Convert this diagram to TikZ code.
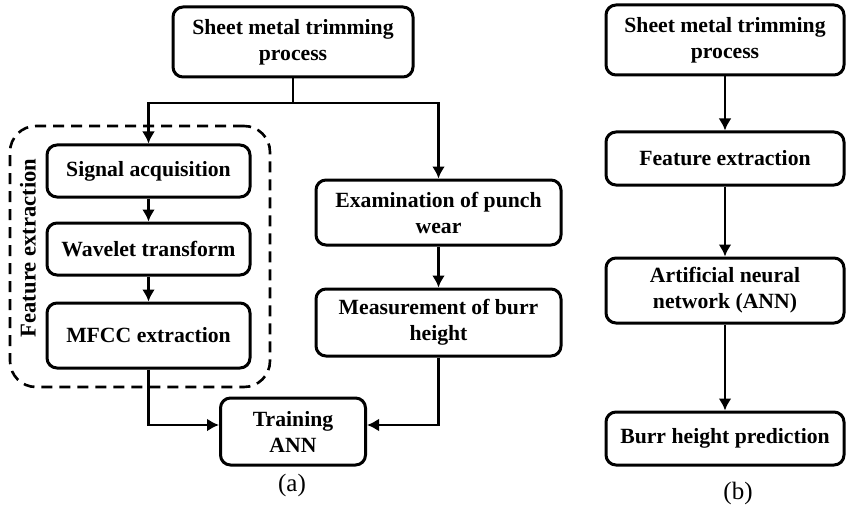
\documentclass[tikz,border=0pt]{standalone}
\usepackage{fontspec}
\setmainfont{Liberation Serif}
\usetikzlibrary{arrows.meta,positioning}
\tikzset{>={Latex[length=6pt,width=6.5pt]}}
\tikzset{procbox/.style={draw, rounded corners=5pt, line width=1.5pt, align=center, inner sep=0pt, font=\fontsize{10.85}{13}\selectfont\bfseries}}

\begin{document}
\begin{tikzpicture}[x=0.5pt, y=-0.5pt, line width=1.3pt]
      \useasboundingbox (0,0) rectangle (846,508);
      % (a) training
      \node[procbox, minimum width=120pt, minimum height=35pt] (st) at (293,42) {Sheet metal trimming\\process};
      \node[procbox, minimum width=101.5pt, minimum height=26pt] (sig) at (148.5,171) {Signal acquisition};
      \node[procbox, below of=sig, node distance=39pt, minimum width=101.5pt, minimum height=26pt] (wav) {Wavelet transform};
      \node[procbox, below of=wav, node distance=43.25pt, minimum width=101.5pt, minimum height=32.5pt] (mfcc) {MFCC extraction};
      \node[procbox, minimum width=122.5pt, minimum height=32.5pt] (exam) at (438.5,212.5) {Examination of punch\\wear};
      \node[procbox, below of=exam, node distance=55pt, minimum width=122.5pt, minimum height=33.5pt] (meas) {Measurement of burr\\height};
      \node[procbox, below of=st, node distance=194.75pt, minimum width=72.5pt, minimum height=33.5pt] (train) {Training\\ANN};
      \node[draw, dashed, dash pattern=on 5.5pt off 3.5pt, rounded corners=13pt, minimum width=130pt, minimum height=130.5pt] (fegroup) at (140,256.5) {};
      \node[rotate=90, font=\fontsize{11.3}{13}\selectfont\bfseries] (felabel) at (28,248) {Feature extraction};
      \coordinate (br) at (293,103);
      \draw (st.south) -- (br);
      \draw[->] (br) -| (sig.north);
      \draw[->] (br) -| (exam.north);
      \draw[->] (sig) -- (wav);
      \draw[->] (wav) -- (mfcc);
      \draw[->] (exam) -- (meas);
      \draw[->] (mfcc.south) |- ([yshift=3.25pt]train.west);
      \draw[->] (meas.south) |- ([yshift=3.25pt]train.east);
      \node[font=\fontsize{12.5}{14}\selectfont] (capa) at (292,485) {(a)};
      % (b) prediction
      \node[procbox, minimum width=119pt, minimum height=35pt] (rtop) at (725,40) {Sheet metal trimming\\process};
      \node[procbox, below of=rtop, node distance=59.25pt, minimum width=119pt, minimum height=26.5pt] (feat) {Feature extraction};
      \node[procbox, below of=feat, node distance=66pt, minimum width=119pt, minimum height=32.5pt] (ann) {Artificial neural\\network (ANN)};
      \node[procbox, below of=ann, node distance=74pt, minimum width=119pt, minimum height=26.5pt] (burr) {Burr height prediction};
      \draw[->] (rtop) -- (feat);
      \draw[->] (feat) -- (ann);
      \draw[->] (ann) -- (burr);
      \node[font=\fontsize{12.5}{14}\selectfont] (capb) at (738,493) {(b)};
    \end{tikzpicture}
\end{document}
